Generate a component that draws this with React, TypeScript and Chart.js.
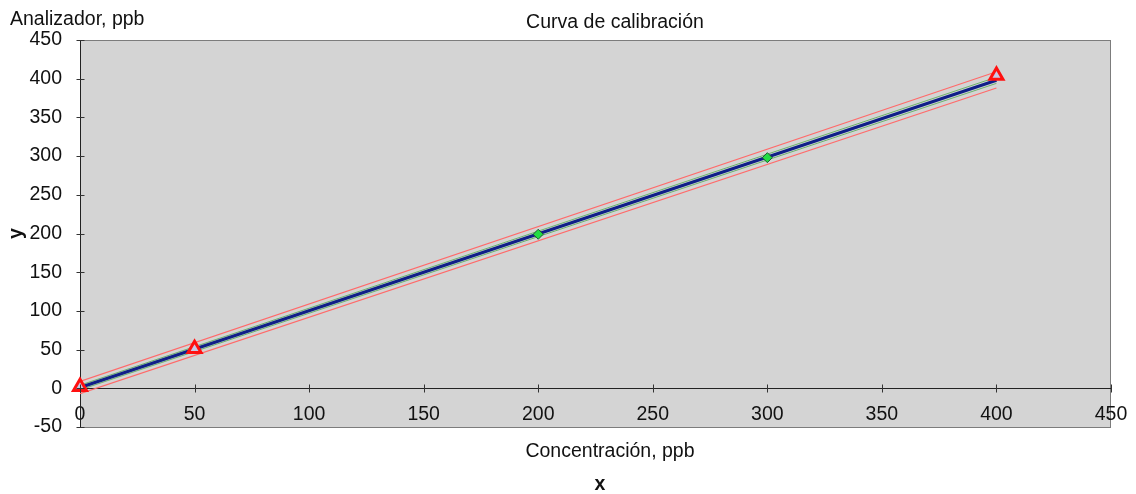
import React, { useEffect, useRef } from 'react';
import { Chart, registerables } from 'chart.js';

Chart.register(...registerables);

// ---- data ----
const xTickValues = [0, 50, 100, 150, 200, 250, 300, 350, 400, 450];
const yTickValues = [-50, 0, 50, 100, 150, 200, 250, 300, 350, 400, 450];
const calibX = [0, 50, 400];
const calibY = [2, 51, 404];
const checkX = [200, 300];
const checkY = [199, 298];
const lineX = [0, 400];
const fitY = [1, 398];
const upperLimitY = [9, 409];
const lowerLimitY = [-7, 388];
const upperInnerY = [4, 402];
const lowerInnerY = [-2, 394];

const titleText = 'Curva de calibración';
const yUnitText = 'Analizador, ppb';
const xUnitText = 'Concentración, ppb';
const xAxisName = 'x';
const yAxisName = 'y';

const pts = (xs: number[], ys: number[]) => xs.map((x, i) => ({ x, y: ys[i] }));

const FONT = "'Liberation Sans', Arial, Helvetica, sans-serif";
const FS = 19.5;

const decorPlugin = {
  id: 'decor',
  beforeDraw(chart: any) {
    const { ctx, chartArea: a } = chart;
    ctx.save();
    ctx.fillStyle = '#d4d4d4';
    ctx.fillRect(a.left, a.top, a.right - a.left, a.bottom - a.top);
    ctx.strokeStyle = '#7c7c7c';
    ctx.lineWidth = 1;
    ctx.strokeRect(a.left + 0.5, a.top + 0.5, a.right - a.left - 1, a.bottom - a.top);
    ctx.restore();
  },
  afterDraw(chart: any) {
    const { ctx, chartArea: a, scales } = chart;
    const xs = scales.x;
    const ys = scales.y;
    ctx.save();
    // crossing tick marks
    ctx.strokeStyle = '#333';
    ctx.lineWidth = 1;
    const y0 = Math.round(ys.getPixelForValue(0)) + 0.5;
    xTickValues.forEach((v) => {
      const px = Math.round(xs.getPixelForValue(v)) + 0.5;
      ctx.beginPath();
      ctx.moveTo(px, y0 - 4);
      ctx.lineTo(px, y0 + 4);
      ctx.stroke();
    });
    const x0 = Math.round(a.left) + 0.5;
    yTickValues.forEach((v) => {
      const py = Math.round(ys.getPixelForValue(v)) + 0.5;
      ctx.beginPath();
      ctx.moveTo(x0 - 4, py);
      ctx.lineTo(x0 + 4, py);
      ctx.stroke();
    });
    // texts
    ctx.fillStyle = '#111';
    ctx.textBaseline = 'alphabetic';
    ctx.font = `${FS}px ${FONT}`;
    ctx.textAlign = 'left';
    ctx.fillText(yUnitText, 10, 25);
    ctx.textAlign = 'center';
    ctx.fillText(titleText, 615, 28);
    ctx.fillText(xUnitText, 610, 457);
    ctx.font = `bold ${FS}px ${FONT}`;
    ctx.fillText(xAxisName, 600, 490);
    ctx.restore();
  },
};

export default function App() {
  const ref = useRef<HTMLCanvasElement | null>(null);

  useEffect(() => {
    if (!ref.current) return;
    const chart = new Chart(ref.current, {
      type: 'scatter',
      data: {
        datasets: [
          {
            label: 'calibración',
            data: pts(calibX, calibY),
            pointStyle: 'triangle',
            pointRadius: 7.5,
            borderColor: '#ff1010',
            backgroundColor: '#c8c8e6',
            pointBorderWidth: 3,
            showLine: false,
            clip: false,
            order: 0,
          },
          {
            label: 'control',
            data: pts(checkX, checkY),
            pointStyle: 'rectRot',
            pointRadius: 5,
            borderColor: '#1d5a33',
            backgroundColor: '#22dd44',
            pointBorderWidth: 1,
            showLine: false,
            clip: false,
            order: 1,
          },
          {
            label: 'ajuste',
            data: pts(lineX, fitY),
            showLine: true,
            pointRadius: 0,
            borderColor: '#0f1f88',
            borderWidth: 3,
            clip: false,
            order: 2,
          },
          {
            label: 'sup',
            data: pts(lineX, upperLimitY),
            showLine: true,
            pointRadius: 0,
            borderColor: '#ff6a6a',
            borderWidth: 1.2,
            order: 3,
          },
          {
            label: 'inf',
            data: pts(lineX, lowerLimitY),
            showLine: true,
            pointRadius: 0,
            borderColor: '#ff6a6a',
            borderWidth: 1.2,
            order: 3,
          },
          {
            label: 'sup2',
            data: pts(lineX, upperInnerY),
            showLine: true,
            pointRadius: 0,
            borderColor: 'rgba(80,170,80,0.8)',
            borderWidth: 1,
            order: 4,
          },
          {
            label: 'inf2',
            data: pts(lineX, lowerInnerY),
            showLine: true,
            pointRadius: 0,
            borderColor: 'rgba(80,170,80,0.8)',
            borderWidth: 1,
            order: 4,
          },
        ],
      },
      options: {
        animation: false,
        responsive: false,
        maintainAspectRatio: false,
        layout: { padding: { top: 40, right: 25, bottom: 67, left: 0 } },
        plugins: {
          legend: { display: false },
          tooltip: { enabled: false },
          title: { display: false },
        },
        scales: {
          x: {
            type: 'linear',
            min: 0,
            max: 450,
            position: { y: 0 } as any,
            afterBuildTicks: (s: any) => {
              s.ticks = xTickValues.map((v) => ({ value: v }));
            },
            ticks: {
              font: { size: FS, family: FONT },
              color: '#111',
              padding: 7,
              maxRotation: 0,
              autoSkip: false,
            },
            grid: { display: false },
            border: { display: true, color: '#222', width: 1 },
          },
          y: {
            type: 'linear',
            min: -50,
            max: 450,
            position: 'left',
            afterBuildTicks: (s: any) => {
              s.ticks = yTickValues.map((v) => ({ value: v }));
            },
            afterFit: (s: any) => {
              s.width = 80;
            },
            ticks: {
              font: { size: FS, family: FONT },
              color: '#111',
              padding: 10,
              autoSkip: false,
            },
            grid: { display: false },
            border: { display: true, color: '#222', width: 1 },
            title: {
              display: true,
              text: yAxisName,
              color: '#111',
              font: { size: FS, weight: 'bold', family: FONT },
              padding: { top: 5, bottom: 0 },
            },
          },
        },
      },
      plugins: [decorPlugin],
    });
    return () => chart.destroy();
  }, []);

  return (
    <div style={{ position: 'absolute', left: 0, top: 0, width: 1136, height: 494, background: '#fff' }}>
      <canvas ref={ref} width={1136} height={494} style={{ width: 1136, height: 494, display: 'block' }} />
    </div>
  );
}
